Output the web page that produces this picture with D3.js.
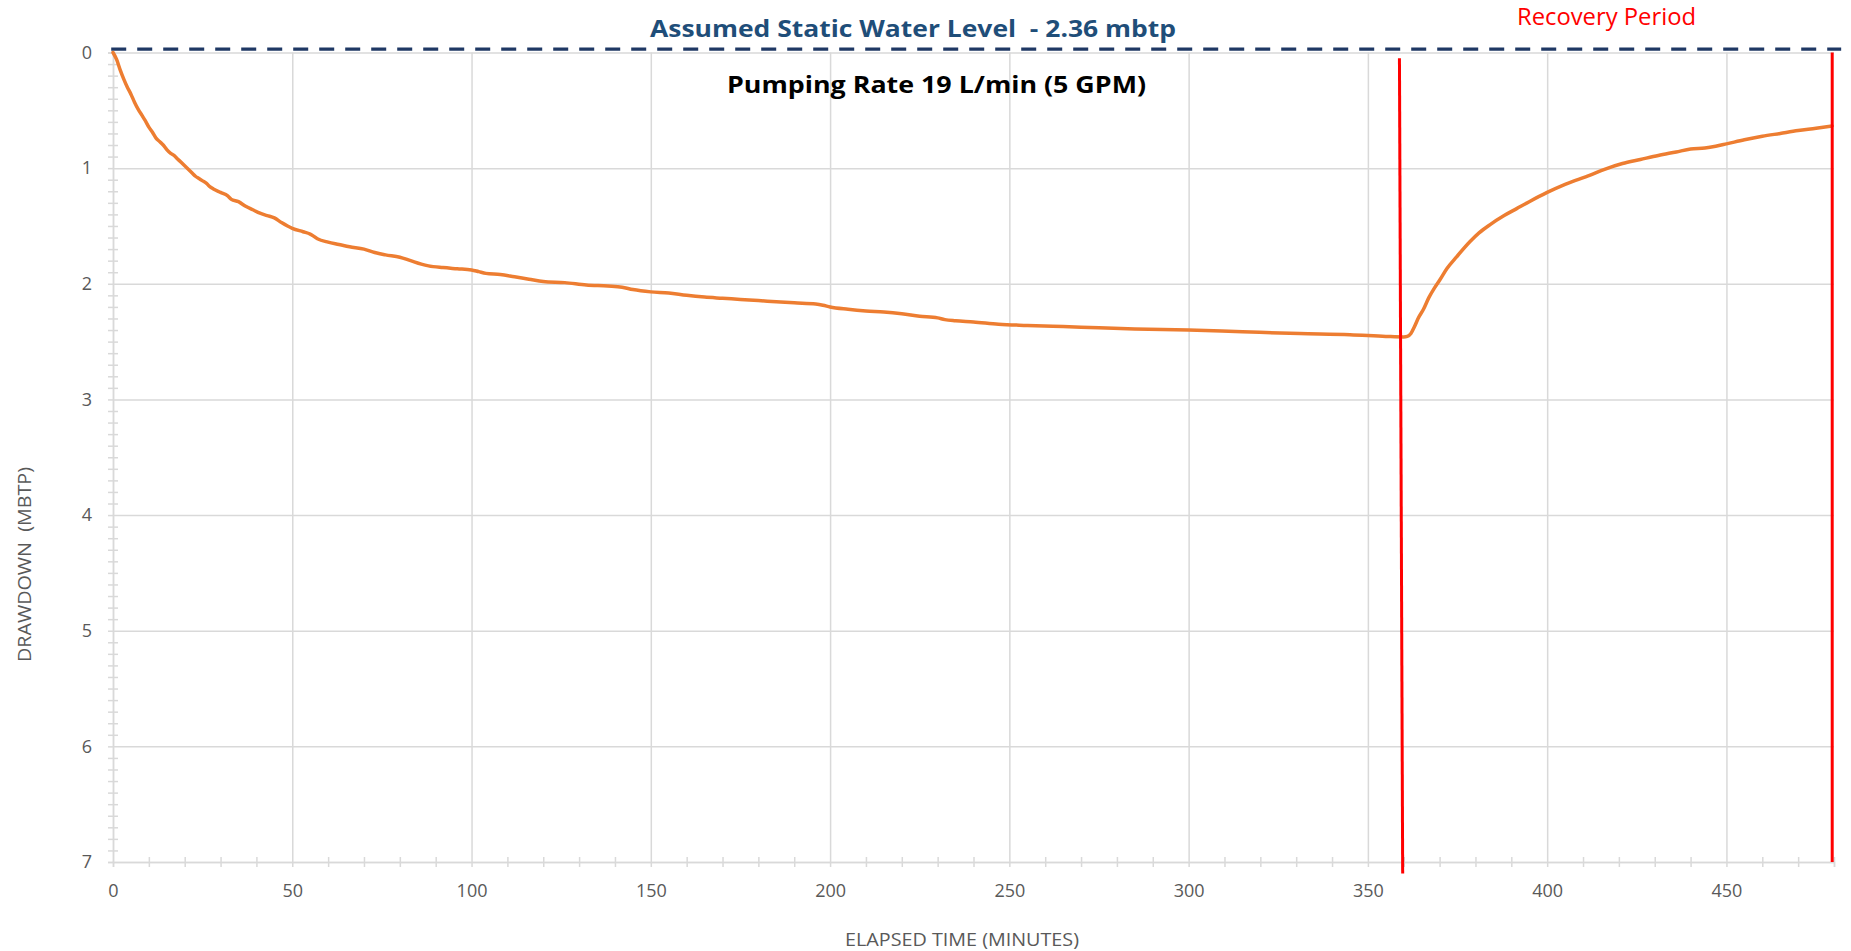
<!DOCTYPE html>
<html>
<head>
<meta charset="utf-8">
<script src="https://cdn.jsdelivr.net/npm/d3@7"></script>
<style>
  body { margin: 0; background: #fff; }
  text { font-family: "Open Sans", Lato, sans-serif; }
</style>
</head>
<body>
<svg id="chart"></svg>
<script>
// elapsed time (minutes) and drawdown (mbtp)
var elapsedTime = [0, 1, 2, 3, 4, 5, 6, 7, 8, 9, 10, 11, 12, 13, 14, 15, 16, 17, 18, 19, 20,
  21, 22, 23, 24, 25, 26, 27, 28, 30, 32, 33, 35, 37, 39, 41, 43, 45, 47, 50, 53, 55, 57, 60,
  63, 66, 70, 73, 76, 80, 83, 86, 88, 92, 96, 100, 102, 104, 108, 112, 116, 120, 126, 132,
  138, 142, 145, 150, 155, 160, 165, 170, 175, 180, 185, 190, 196, 198, 200, 205, 210, 215,
  220, 225, 230, 232, 235, 240, 247, 255, 265, 275, 285, 300, 315, 331, 345, 355, 360,
  361, 362, 363, 364, 365.5, 367, 368.5, 370, 372, 374.8, 378.5, 381, 384, 388, 391.5, 395,
  400, 405, 412, 416, 421, 426, 431, 436, 440, 444, 447, 450, 455, 460, 465, 470, 475, 479.5];
var drawdown = [0, 0.06, 0.15, 0.23, 0.30, 0.36, 0.43, 0.49, 0.54, 0.59, 0.645, 0.69, 0.74,
  0.77, 0.80, 0.84, 0.87, 0.89, 0.92, 0.95, 0.98, 1.01, 1.04, 1.07, 1.09, 1.11, 1.13, 1.16,
  1.18, 1.21, 1.24, 1.27, 1.29, 1.33, 1.36, 1.39, 1.41, 1.43, 1.47, 1.52, 1.55, 1.57, 1.61,
  1.64, 1.66, 1.68, 1.70, 1.73, 1.75, 1.77, 1.80, 1.83, 1.845, 1.86, 1.87, 1.88, 1.895, 1.91,
  1.92, 1.94, 1.96, 1.98, 1.99, 2.01, 2.02, 2.03, 2.05, 2.07, 2.08, 2.10, 2.115, 2.125,
  2.135, 2.145, 2.155, 2.165, 2.175, 2.185, 2.20, 2.22, 2.235, 2.245, 2.26, 2.28, 2.295,
  2.31, 2.32, 2.33, 2.35, 2.36, 2.37, 2.38, 2.39, 2.40, 2.415, 2.43, 2.44, 2.455, 2.46,
  2.455, 2.43, 2.37, 2.30, 2.22, 2.12, 2.04, 1.97, 1.87, 1.765, 1.635, 1.56, 1.49, 1.41,
  1.35, 1.29, 1.21, 1.14, 1.06, 1.01, 0.96, 0.925, 0.89, 0.86, 0.835, 0.825, 0.81, 0.79,
  0.755, 0.725, 0.70, 0.675, 0.655, 0.635];

var xTicks = [0, 50, 100, 150, 200, 250, 300, 350, 400, 450];
var yTicks = [0, 1, 2, 3, 4, 5, 6, 7];

// pump stop / end of test markers (time, drawdown at top and bottom)
var recoveryStart = [358.8, 0.05, 359.7, 7.1];
var recoveryEnd = [479.5, 0, 479.5, 7];
var staticLevel = -0.03;

var titleText = "Assumed Static Water Level  - 2.36 mbtp";
var rateText = "Pumping Rate 19 L/min (5 GPM)";
var recoveryText = "Recovery Period";
var xTitle = "ELAPSED TIME (MINUTES)";
var yTitle = "DRAWDOWN  (MBTP)";

var width = 1851;
var height = 951;
var margin = { top: 52.5, right: 17, bottom: 89, left: 113 };
var innerW = width - margin.left - margin.right;
var innerH = height - margin.top - margin.bottom;
var gridColor = "#d9d9d9";
var labelColor = "#595959";

var svg = d3.select("#chart")
  .attr("width", width)
  .attr("height", height);

svg.append("rect").attr("width", width).attr("height", height).attr("fill", "#fff");

var x = d3.scaleLinear().domain([0, 480]).range([margin.left, margin.left + innerW]);
var y = d3.scaleLinear().domain([0, 7]).range([margin.top, margin.top + innerH]);

function greyLines(g) {
  g.select(".domain").remove();
  g.selectAll("line").attr("stroke", gridColor).attr("stroke-width", 1.5);
}

// gridlines
svg.append("g")
  .attr("transform", "translate(0," + y(7) + ")")
  .call(d3.axisBottom(x).tickValues(xTicks).tickSize(-innerH).tickFormat(""))
  .call(greyLines);
svg.append("g")
  .attr("transform", "translate(" + x(0) + ",0)")
  .call(d3.axisLeft(y).tickValues(yTicks).tickSize(-innerW).tickFormat(""))
  .call(greyLines);

// minor ticks, crossing the axes
var yMinor = d3.range(0, 70).map(function(i) { return i / 10; }).filter(function(v) { return v % 1 !== 0; });
svg.append("g")
  .attr("transform", "translate(" + (x(0) + 5) + ",0)")
  .call(d3.axisLeft(y).tickValues(yMinor).tickSize(10).tickFormat(""))
  .call(greyLines);
var xMinor = d3.range(10, 490, 10).filter(function(v) { return v % 50 !== 0; });
svg.append("g")
  .attr("transform", "translate(0," + (y(7) - 5) + ")")
  .call(d3.axisBottom(x).tickValues(xMinor).tickSize(10).tickFormat(""))
  .call(greyLines);

// main axes
var xAxis = svg.append("g")
  .attr("transform", "translate(0," + y(7) + ")")
  .call(d3.axisBottom(x).tickValues(xTicks).tickSize(5).tickPadding(17).tickFormat(d3.format("d")));
var yAxis = svg.append("g")
  .attr("transform", "translate(" + x(0) + ",0)")
  .call(d3.axisLeft(y).tickValues(yTicks).tickSize(5).tickPadding(16).tickFormat(d3.format("d")));

[xAxis, yAxis].forEach(function(g) {
  g.select(".domain").attr("stroke", gridColor).attr("stroke-width", 1.5);
  g.selectAll("line").attr("stroke", gridColor).attr("stroke-width", 1.5);
  g.selectAll("text")
    .attr("fill", labelColor)
    .style("font-size", "18px")
    .style("font-family", "'Open Sans', Lato, sans-serif");
});

// axis titles
svg.append("text")
  .attr("x", 962)
  .attr("y", 946)
  .attr("text-anchor", "middle")
  .attr("fill", labelColor)
  .attr("textLength", 234)
  .attr("lengthAdjust", "spacingAndGlyphs")
  .style("font-size", "18px")
  .text(xTitle);
svg.append("text")
  .attr("transform", "translate(31," + 564.5 + ") rotate(-90)")
  .attr("text-anchor", "middle")
  .attr("fill", labelColor)
  .attr("textLength", 195)
  .attr("lengthAdjust", "spacingAndGlyphs")
  .style("font-size", "18px")
  .style("white-space", "pre")
  .text(yTitle);

// static water level
svg.append("line")
  .attr("x1", x(-0.5))
  .attr("x2", x(482))
  .attr("y1", y(staticLevel))
  .attr("y2", y(staticLevel))
  .attr("stroke", "#1f3864")
  .attr("stroke-width", 3.3)
  .attr("stroke-dasharray", "15,11");

// drawdown curve
var points = elapsedTime.map(function(t, i) { return [t, drawdown[i]]; });
var line = d3.line()
  .x(function(d) { return x(d[0]); })
  .y(function(d) { return y(d[1]); })
  .curve(d3.curveMonotoneX);

svg.append("path")
  .datum(points)
  .attr("d", line)
  .attr("fill", "none")
  .attr("stroke", "#ed7d31")
  .attr("stroke-width", 3.5)
  .attr("stroke-linejoin", "round")
  .attr("stroke-linecap", "round");

// recovery markers
[recoveryStart, recoveryEnd].forEach(function(m) {
  svg.append("line")
    .attr("x1", x(m[0]))
    .attr("y1", y(m[1]))
    .attr("x2", x(m[2]))
    .attr("y2", y(m[3]))
    .attr("stroke", "#ff0000")
    .attr("stroke-width", 3);
});

// labels
svg.append("text")
  .attr("x", 650)
  .attr("y", 37)
  .attr("fill", "#1f4e79")
  .attr("textLength", 526)
  .attr("lengthAdjust", "spacingAndGlyphs")
  .style("font-size", "24px")
  .style("font-weight", "bold")
  .style("white-space", "pre")
  .text(titleText);
svg.append("text")
  .attr("x", 727)
  .attr("y", 93)
  .attr("fill", "#000")
  .attr("textLength", 419)
  .attr("lengthAdjust", "spacingAndGlyphs")
  .style("font-size", "24px")
  .style("font-weight", "bold")
  .text(rateText);
svg.append("text")
  .attr("x", 1517)
  .attr("y", 25)
  .attr("fill", "#ff0000")
  .attr("textLength", 179)
  .attr("lengthAdjust", "spacingAndGlyphs")
  .style("font-size", "24px")
  .text(recoveryText);
</script>
</body>
</html>
